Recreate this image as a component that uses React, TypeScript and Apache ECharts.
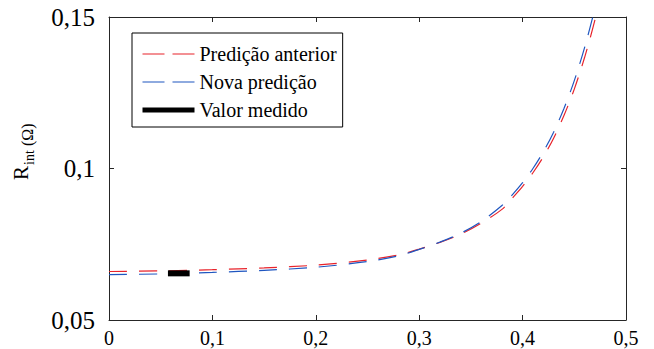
import React, { useEffect, useRef } from 'react';
import * as echarts from 'echarts';

const xGrid = [0, 0.05, 0.1, 0.15, 0.2, 0.25, 0.28, 0.3, 0.32, 0.34, 0.36, 0.38, 0.39, 0.4, 0.41, 0.42, 0.43, 0.44, 0.45, 0.46, 0.47, 0.48];
const predAnterior = [0.066, 0.0662, 0.0666, 0.0672, 0.0681, 0.0698, 0.0715, 0.0734, 0.0756, 0.0783, 0.082, 0.0865, 0.0902, 0.0941, 0.0986, 0.1038, 0.11, 0.1175, 0.1262, 0.1367, 0.1491, 0.1638];
const novaPredicao = [0.065, 0.0652, 0.0657, 0.0664, 0.0674, 0.0693, 0.0712, 0.0733, 0.0757, 0.0786, 0.0825, 0.0878, 0.0913, 0.0953, 0.1, 0.1055, 0.112, 0.1198, 0.129, 0.14, 0.153, 0.1685];
const medidoX = [0.057, 0.078];
const medidoY = [0.0654, 0.0654];

const xTicks = [0, 0.1, 0.2, 0.3, 0.4, 0.5];
const xTickLabels = ['0', '0,1', '0,2', '0,3', '0,4', '0,5'];
const yTicks = [0.05, 0.1, 0.15];
const yTickLabels = ['0,05', '0,1', '0,15'];
const seriesNames = ['Predição anterior', 'Nova predição', 'Valor medido'];
const yTitleMain = 'R';
const yTitleSub = 'int';
const yTitleUnit = '(Ω)';

const FONT = 'Liberation Serif';
const AX = '#262626';
const RED = '#e8232b';
const BLUE = '#1f56c0';

const lookup = (ticks: number[], labels: string[]) => (v: number) => {
  const i = ticks.findIndex((t) => Math.abs(t - v) < 1e-9);
  return i >= 0 ? labels[i] : '';
};

const vText = (text: string, x: number, y: number, size: number) => ({
  type: 'text',
  x,
  y,
  rotation: Math.PI / 2,
  style: {
    text,
    fontFamily: FONT,
    fontSize: size,
    fill: '#000',
    align: 'left',
    verticalAlign: 'middle',
    textAlign: 'left',
    textVerticalAlign: 'middle',
  },
});

export default function App() {
  const ref = useRef<HTMLDivElement>(null);
  useEffect(() => {
    if (!ref.current) return;
    const chart = echarts.init(ref.current, undefined, { renderer: 'svg' });
    const axisCommon = {
      type: 'value' as const,
      axisLine: { show: true, onZero: false, lineStyle: { color: AX, width: 1 } },
      axisTick: { show: true, inside: true, length: 5, lineStyle: { color: AX, width: 1 } },
      splitLine: { show: false },
    };
    chart.setOption({
      animation: false,
      backgroundColor: '#fff',
      textStyle: { fontFamily: FONT },
      grid: { left: 109, top: 17, right: 28, bottom: 29 },
      xAxis: [
        {
          ...axisCommon,
          position: 'bottom',
          min: 0,
          max: 0.5,
          interval: 0.1,
          axisLabel: {
            fontFamily: FONT,
            fontSize: 20,
            color: '#000',
            margin: 8,
            formatter: lookup(xTicks, xTickLabels),
          },
        },
        {
          ...axisCommon,
          position: 'top',
          min: 0,
          max: 0.5,
          interval: 0.1,
          axisLabel: { show: false },
        },
      ],
      yAxis: [
        {
          ...axisCommon,
          position: 'left',
          min: 0.05,
          max: 0.15,
          interval: 0.05,
          axisLabel: {
            fontFamily: FONT,
            fontSize: 25,
            color: '#000',
            margin: 14,
            formatter: lookup(yTicks, yTickLabels),
          },
        },
        {
          ...axisCommon,
          position: 'right',
          min: 0.05,
          max: 0.15,
          interval: 0.05,
          axisLabel: { show: false },
        },
      ],
      legend: {
        orient: 'vertical',
        left: 132,
        top: 33,
        padding: [11, 6, 7, 8],
        borderColor: '#000',
        borderWidth: 1,
        itemWidth: 52,
        itemHeight: 20,
        itemGap: 8,
        itemTextGap: 5,
        backgroundColor: '#fff',
        textStyle: { fontFamily: FONT, fontSize: 20, color: '#000', lineHeight: 20 },
        data: [
          { name: seriesNames[0], itemStyle: { opacity: 0 }, lineStyle: { type: [22, 8], width: 1.2, color: RED } },
          { name: seriesNames[1], itemStyle: { opacity: 0 }, lineStyle: { type: [22, 8], width: 1.2, color: BLUE } },
          { name: seriesNames[2], itemStyle: { opacity: 0 }, lineStyle: { width: 5, color: '#000' } },
        ],
      },
      graphic: [
        vText(yTitleMain, 21, 180, 21),
        vText(yTitleSub, 29.5, 165, 14),
        vText(yTitleUnit, 27, 146, 16),
      ],
      series: [
        {
          name: seriesNames[0],
          type: 'line',
          data: xGrid.map((x, i) => [x, predAnterior[i]]),
          showSymbol: false,
          symbol: 'none',
          smooth: 0.3,
          clip: true,
          lineStyle: { color: RED, width: 1.2, type: [18, 12] },
          itemStyle: { color: RED },
          z: 3,
        },
        {
          name: seriesNames[1],
          type: 'line',
          data: xGrid.map((x, i) => [x, novaPredicao[i]]),
          showSymbol: false,
          symbol: 'none',
          smooth: 0.3,
          clip: true,
          lineStyle: { color: BLUE, width: 1.2, type: [18, 12] },
          itemStyle: { color: BLUE },
          z: 3,
        },
        {
          name: seriesNames[2],
          type: 'line',
          data: medidoX.map((x, i) => [x, medidoY[i]]),
          showSymbol: false,
          symbol: 'none',
          clip: true,
          lineStyle: { color: '#000', width: 6 },
          itemStyle: { color: '#000' },
          z: 4,
        },
      ],
    });
    return () => chart.dispose();
  }, []);
  return <div ref={ref} style={{ position: 'absolute', left: 0, top: 0, width: 654, height: 349 }} />;
}
